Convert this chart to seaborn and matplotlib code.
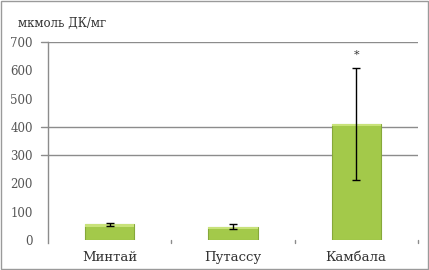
import matplotlib
matplotlib.use("Agg")
import matplotlib.pyplot as plt
import seaborn as sns
import pandas as pd
from matplotlib.patches import Rectangle

# Concentration of diene conjugates by fish species
species = ["Минтай", "Путассу", "Камбала"]
means = [55, 47, 412]
errors = [4, 9, 198]
significant = ["", "", "*"]
yticks = [0, 100, 200, 300, 400, 500, 600, 700]
grid_levels = [300, 400, 700]
ylabel = "мкмоль ДК/мг"

sns.set_theme(style="white")
plt.rcParams["font.family"] = ["DejaVu Serif", "Liberation Serif"]

df = pd.DataFrame({"species": species, "value": means})

fig = plt.figure(figsize=(4.29, 2.70), dpi=100)
ax = fig.add_axes([0.112, 0.111, 0.862, 0.733])

sns.barplot(data=df, x="species", y="value", ax=ax, color="#a3c94a",
            width=0.4, edgecolor="#86a83a", linewidth=0.8, saturation=1,
            errorbar=None, zorder=2)

# light top highlight on each bar
for bar in ax.patches:
    x, w, h = bar.get_x(), bar.get_width(), bar.get_height()
    ax.add_patch(Rectangle((x, h - 8), w, 8, facecolor="#c8e27a",
                           edgecolor="none", zorder=2.5))

ax.errorbar(range(len(species)), means, yerr=errors, fmt="none",
            ecolor="black", elinewidth=1.0, capsize=3, capthick=1.0, zorder=3)

for i, (m, e, s) in enumerate(zip(means, errors, significant)):
    if s:
        ax.text(i, m + e + 45, s, ha="center", va="center", fontsize=8,
                color="#333333")

ax.set_ylim(0, 700)
ax.set_xlim(-0.5, 2.5)
ax.set_yticks(yticks)
ax.set_yticklabels([str(t) for t in yticks], fontsize=8.5, color="#555555")
ax.tick_params(axis="x", labelsize=9.5, labelcolor="#333333", length=0, pad=8)
ax.tick_params(axis="y", length=0, pad=11)
ax.set_xlabel("")
ax.set_ylabel("")

for lvl in grid_levels:
    ax.axhline(lvl, color="#8c8c8c", linewidth=1.0, zorder=1)
    ax.plot([-0.56, -0.5], [lvl, lvl], color="#8c8c8c", linewidth=1.0,
            clip_on=False)

# category separator ticks below baseline
for xb in [0.5, 1.5, 2.5]:
    ax.plot([xb, xb], [0, -10], color="#8c8c8c", linewidth=1.0, clip_on=False)

for side in ["top", "right", "bottom"]:
    ax.spines[side].set_visible(False)
ax.spines["left"].set_color("#8c8c8c")
ax.spines["left"].set_linewidth(1.0)
ax.spines["left"].set_bounds(-10, 700)

fig.text(18 / 429, 1 - 23 / 270, ylabel, fontsize=8.5, color="#333333",
         ha="left", va="center")

# outer frame
fig.patches.append(Rectangle((0.002, 0.004), 0.995, 0.992,
                             transform=fig.transFigure, fill=False,
                             edgecolor="#9a9a9a", linewidth=1.0))

fig.savefig("out.png", dpi=100)
